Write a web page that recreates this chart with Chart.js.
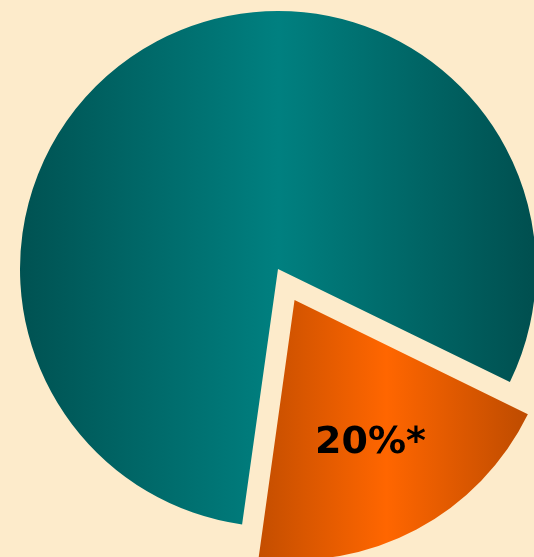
<!DOCTYPE html>
<html>
<head>
<meta charset="utf-8">
<script src="https://cdn.jsdelivr.net/npm/chart.js@4.4.1/dist/chart.umd.min.js"></script>
<style>
  html, body { margin: 0; padding: 0; background: #fdebcb; overflow: hidden; }
  #wrap { position: relative; width: 534px; height: 557px; }
</style>
</head>
<body>
<div id="wrap"><canvas id="shareChart"></canvas></div>
<script>
// slices, orange share first
const sliceNames = ['Share', 'Rest'];
const sliceValues = [20, 80];
const sliceLabels = ['20%*', ''];

const PIE_RADIUS = 258;

// dark - light - dark horizontal fill for each slice
function sliceFill(context) {
    const chart = context.chart;
    const area = chart.chartArea;
    if (!area) return null;
    const cx = (area.left + area.right) / 2;
    const g = chart.ctx;
    let grad;
    if (context.dataIndex === 0) {
        grad = g.createLinearGradient(cx - 88, 0, cx + 272, 0);
        grad.addColorStop(0, '#ac4400');
        grad.addColorStop(0.5, '#ff6600');
        grad.addColorStop(1, '#ac4400');
    } else {
        grad = g.createLinearGradient(cx - PIE_RADIUS, 0, cx + PIE_RADIUS, 0);
        grad.addColorStop(0, '#005252');
        grad.addColorStop(0.5, '#008080');
        grad.addColorStop(1, '#004f4f');
    }
    return grad;
}

// how far the arc element actually shifts a slice for a given offset option
function explodeShift(arc) {
    const off = (arc.options.offset || 0) / 4;
    const circ = arc.endAngle - arc.startAngle;
    return off * (2 - Math.sin(Math.min(Math.PI, circ)));
}

const sliceLabelPlugin = {
    id: 'sliceLabel',
    afterDatasetsDraw(chart) {
        const meta = chart.getDatasetMeta(0);
        const ctx = chart.ctx;
        meta.data.forEach((arc, i) => {
            if (!sliceLabels[i]) return;
            const p = arc.getProps(['x', 'y', 'startAngle', 'endAngle', 'outerRadius'], true);
            const mid = (p.startAngle + p.endAngle) / 2;
            const d = explodeShift(arc) + p.outerRadius * 0.62;
            ctx.save();
            ctx.font = 'bold 38px "DejaVu Sans"';
            ctx.fillStyle = '#000000';
            ctx.textAlign = 'center';
            ctx.textBaseline = 'middle';
            ctx.fillText(sliceLabels[i], p.x + Math.cos(mid) * d, p.y + Math.sin(mid) * d);
            ctx.restore();
        });
    }
};

const ctx = document.getElementById('shareChart').getContext('2d');

const shareChart = new Chart(ctx, {
    type: 'pie',
    data: {
        labels: sliceNames,
        datasets: [{
            data: sliceValues,
            backgroundColor: sliceFill,
            borderWidth: 0,
            offset: [141, 0],
            radius: PIE_RADIUS,
            rotation: 116,
            clip: false
        }]
    },
    options: {
        responsive: true,
        maintainAspectRatio: false,
        animation: false,
        layout: {
            padding: { left: 22, right: 0, top: 0, bottom: 19 }
        },
        plugins: {
            legend: { display: false },
            tooltip: { enabled: false }
        }
    },
    plugins: [sliceLabelPlugin]
});
</script>
</body>
</html>
